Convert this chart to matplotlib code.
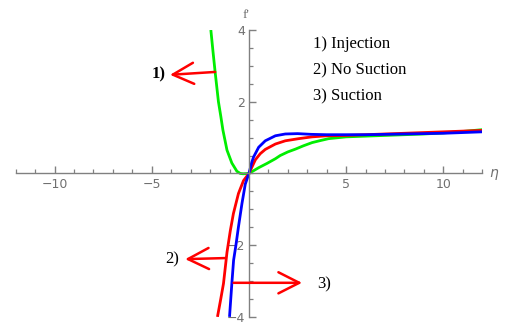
import matplotlib
matplotlib.use("Agg")
import matplotlib.pyplot as plt
from matplotlib.ticker import MultipleLocator, FixedLocator

# f'(eta) profiles read for the three wall conditions
eta_inj = [-1.96, -1.85, -1.74, -1.57, -1.45, -1.34, -1.13, -0.88, -0.62, -0.45, -0.3, 0.0,
           0.5, 0.93, 1.36, 1.61, 2.0, 2.4, 2.8, 3.25, 3.7, 4.1, 5.0, 6.0, 7.0, 8.0, 9.0, 10.0, 11.0, 12.0]
fp_inj = [4.0, 3.4, 2.83, 2.0, 1.6, 1.21, 0.65, 0.29, 0.06, 0.0, -0.01, 0.0,
          0.16, 0.28, 0.41, 0.5, 0.6, 0.68, 0.77, 0.86, 0.92, 0.97, 1.02, 1.04, 1.06, 1.08, 1.1, 1.13, 1.17, 1.22]

eta_nos = [-1.62, -1.45, -1.31, -1.13, -0.96, -0.8, -0.54, -0.28, 0.0,
           0.33, 0.58, 0.84, 1.36, 1.87, 2.56, 3.25, 4.0, 5.0, 6.0, 7.0, 8.0, 9.0, 10.0, 11.0, 12.0]
fp_nos = [-4.0, -3.5, -3.07, -2.2, -1.6, -1.12, -0.56, -0.2, 0.0,
          0.38, 0.55, 0.67, 0.82, 0.91, 0.97, 1.02, 1.05, 1.06, 1.08, 1.1, 1.12, 1.14, 1.16, 1.18, 1.2]

eta_suc = [-1.0, -0.88, -0.79, -0.67, -0.54, -0.36, -0.19, 0.0,
           0.15, 0.24, 0.5, 0.84, 1.36, 1.87, 2.5, 3.2, 4.0, 5.0, 6.0, 7.0, 8.0, 9.0, 10.0, 11.0, 12.0]
fp_suc = [-4.0, -3.07, -2.42, -2.0, -1.49, -0.84, -0.3, 0.0,
          0.32, 0.46, 0.73, 0.91, 1.05, 1.1, 1.11, 1.09, 1.08, 1.08, 1.08, 1.09, 1.1, 1.11, 1.12, 1.14, 1.16]

legend_lines = ["1) Injection", "2) No Suction", "3) Suction"]

axis_gray = "#808080"
label_gray = "#707070"

fig = plt.figure(figsize=(5.06, 3.26), dpi=100)
ax = fig.add_axes([0.031, 0.028, 0.922, 0.880])

ax.plot(eta_inj, fp_inj, color="#00ee00", lw=2.0, solid_capstyle="butt")
ax.plot(eta_nos, fp_nos, color="#ff0000", lw=2.0, solid_capstyle="butt")
ax.plot(eta_suc, fp_suc, color="#0000ff", lw=2.0, solid_capstyle="butt")

ax.set_xlim(-12, 12)
ax.set_ylim(-4, 4)

# axes crossing at the origin
for side in ["top", "right"]:
    ax.spines[side].set_visible(False)
ax.spines["left"].set_position("zero")
ax.spines["bottom"].set_position("zero")
for side in ["left", "bottom"]:
    ax.spines[side].set_color(axis_gray)
    ax.spines[side].set_linewidth(1.0)

ax.xaxis.set_major_locator(FixedLocator([-10, -5, 5, 10]))
ax.xaxis.set_minor_locator(MultipleLocator(1))
ax.yaxis.set_major_locator(FixedLocator([-4, -2, 2, 4]))
ax.yaxis.set_minor_locator(MultipleLocator(0.5))
ax.set_xticklabels(["\u221210", "\u22125", "5", "10"])
ax.set_yticklabels(["\u22124", "\u22122", "2", "4"])
ax.tick_params(which="major", direction="in", length=5, width=1.0, color=axis_gray,
               labelcolor=label_gray, labelsize=9, pad=3)
ax.tick_params(which="minor", direction="in", length=3, width=0.9, color=axis_gray)

ax.text(0, 4.25, "f'", color=label_gray, fontsize=9.5, family="Liberation Serif",
        ha="right", va="bottom")
ax.text(12.35, 0.0, "\u03b7", color=label_gray, fontsize=10, style="italic",
        ha="left", va="center")

serif = "Liberation Serif"
for i, txt in enumerate(legend_lines):
    ax.text(3.3, 3.6 - i * 0.72, txt, fontsize=12, family=serif, color="black",
            ha="left", va="center")

arrow = dict(arrowstyle="->,head_length=0.75,head_width=0.38", color="red", lw=1.8,
             shrinkA=0, shrinkB=0, mutation_scale=20)
ax.annotate("", xy=(-4.06, 2.75), xytext=(-1.74, 2.83), arrowprops=arrow)
ax.text(-4.3, 2.75, "1)", fontsize=12, family=serif, weight="bold", ha="right", va="center")
ax.annotate("", xy=(-3.28, -2.39), xytext=(-1.2, -2.36), arrowprops=arrow)
ax.text(-3.6, -2.4, "2)", fontsize=12, family=serif, ha="right", va="center")
ax.annotate("", xy=(2.73, -3.05), xytext=(-0.79, -3.05), arrowprops=arrow)
ax.text(3.5, -3.1, "3)", fontsize=12, family=serif, ha="left", va="center")

fig.savefig("out.png", dpi=100)
